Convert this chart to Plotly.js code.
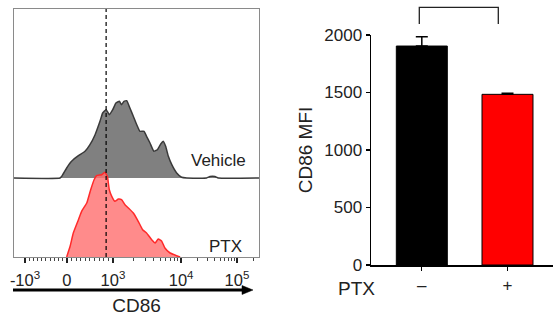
<!DOCTYPE html>
<html>
<head>
<meta charset="utf-8">
<script src="https://cdn.plot.ly/plotly-3.0.1.min.js"></script>
<style>html,body{margin:0;padding:0;background:#fff;}#chart{width:553px;height:326px;}</style>
</head>
<body>
<div id="chart"></div>
<script>
// ---- Flow histogram data (display channel 0-1000, relative cell counts) ----
const vehicleChannels = [0, 188, 195, 215, 235, 263, 290, 310, 331, 351, 362, 376, 389, 403, 416, 430, 439, 449, 460, 473, 487, 501, 514, 531, 541, 555, 571, 585, 599, 609, 619, 630, 644, 664, 684, 705, 786, 800, 820, 834, 1000];
const vehicleCounts   = [0, 0, 1.7, 10, 16.7, 22.3, 26.7, 33.3, 43.3, 56.7, 65, 68.3, 63.3, 68.3, 75, 76.7, 73.3, 76.7, 77.3, 70, 61.7, 53.3, 46.7, 46.7, 41.7, 35, 26.7, 28.3, 34, 36.7, 31.7, 21.7, 13.3, 5, 0.7, 0, 0, 1.5, 1.5, 0, 0];
const ptxChannels = [215, 229, 242, 263, 276, 297, 313, 327, 337, 358, 371, 381, 389, 399, 412, 426, 439, 453, 467, 487, 507, 525, 541, 562, 576, 589, 603, 616, 637, 664, 678];
const ptxCounts   = [0, 10.7, 24, 37.3, 45.7, 54, 67.3, 77.3, 81.3, 82.3, 84.7, 80.7, 67.3, 60.7, 55.7, 58, 57.3, 52.3, 49, 44, 35.7, 27.3, 24, 17.3, 14, 18, 15.7, 9, 4, 1.3, 0];
const histLabels = ['Vehicle', 'PTX'];
const gateChannel = 376;

// ---- Axis ticks (biexponential display) ----
const majorTickChannels = [45, 216, 404, 682, 910];
const majorTickText = ['-10<sup>3</sup>', '0', '10<sup>3</sup>', '10<sup>4</sup>', '10<sup>5</sup>'];

// ---- Bar chart data ----
const ptxCategories = ['\u2013', '+'];
const mfiMeans = [1904, 1484];
const mfiErrors = [80, 10];
const barColors = ['#000000', '#ff0000'];

// ---- helpers ----
const W = 553, H = 326;
const px = x => x / W;
const py = y => 1 - y / H;
const laneOffset = 79;

// minor ticks
const minor = [];
for (let k = 1; k < 10; k++) {
  minor.push(majorTickChannels[0] + (majorTickChannels[1] - majorTickChannels[0]) * k / 10);
  minor.push(majorTickChannels[1] + (majorTickChannels[2] - majorTickChannels[1]) * k / 10);
}
for (let k = 2; k < 10; k++) {
  minor.push(majorTickChannels[2] + (majorTickChannels[3] - majorTickChannels[2]) * Math.log10(k));
  minor.push(majorTickChannels[3] + (majorTickChannels[4] - majorTickChannels[3]) * Math.log10(k));
  const m = majorTickChannels[4] + (majorTickChannels[4] - majorTickChannels[3]) * Math.log10(k);
  if (m < 1000) minor.push(m);
}

const FONT = 'Liberation Sans, Arial, Helvetica, sans-serif';

const traces = [
  {
    x: vehicleChannels, y: vehicleCounts.map(c => c + laneOffset),
    type: 'scatter', mode: 'lines', fill: 'toself',
    fillcolor: '#808080', line: {color: '#3a3a3a', width: 1.5, shape: 'spline', smoothing: 0.4},
    xaxis: 'x', yaxis: 'y', hoverinfo: 'skip', name: histLabels[0]
  },
  {
    x: ptxChannels, y: ptxCounts,
    type: 'scatter', mode: 'lines', fill: 'tozeroy',
    fillcolor: 'rgba(255,110,110,0.8)', line: {color: '#ff2a2a', width: 1.5, shape: 'spline', smoothing: 0.4},
    xaxis: 'x', yaxis: 'y', hoverinfo: 'skip', name: histLabels[1]
  },
  {
    x: ptxCategories, y: mfiMeans, type: 'bar', width: 0.595,
    marker: {color: barColors, line: {color: '#000', width: 1}},
    error_y: {type: 'data', symmetric: false, array: mfiErrors, arrayminus: [0, 0], color: '#000', thickness: 1.5, width: 6},
    xaxis: 'x2', yaxis: 'y2', hoverinfo: 'skip'
  }
];

const layout = {
  width: W, height: H,
  margin: {l: 0, r: 0, t: 0, b: 0},
  paper_bgcolor: '#fff', plot_bgcolor: 'rgba(0,0,0,0)',
  showlegend: false,
  font: {family: FONT, color: '#222', size: 15},
  xaxis: {
    domain: [px(14), px(259)], range: [0, 1000], anchor: 'y',
    tickmode: 'array', tickvals: majorTickChannels, ticktext: majorTickText,
    ticks: 'outside', ticklen: 5, tickwidth: 1.5, tickcolor: '#222', ticklabelstandoff: 3,
    minor: {tickmode: 'array', tickvals: minor, ticks: 'outside', ticklen: 3, tickcolor: '#444', tickwidth: 1},
    showline: true, linecolor: '#8a8a8a', linewidth: 1.2, mirror: true,
    showgrid: false, zeroline: false, tickfont: {size: 16.5, color: '#222'},
    title: {text: 'CD86', font: {size: 19, color: '#222'}, standoff: 10}
  },
  yaxis: {
    domain: [py(257), py(9)], range: [0, 248], anchor: 'x',
    showticklabels: false, ticks: '', showline: true, linecolor: '#8a8a8a', linewidth: 1.2, mirror: true,
    showgrid: false, zeroline: false
  },
  xaxis2: {
    domain: [px(371), 1], anchor: 'y2', type: 'category', range: [-0.593, 1.531],
    ticks: 'outside', ticklen: 4, tickwidth: 1.3, tickcolor: '#000',
    showline: true, linecolor: '#000', linewidth: 1.5, showgrid: false, zeroline: false,
    tickfont: {size: 17, color: '#222'}
  },
  yaxis2: {
    domain: [py(265), py(35)], anchor: 'x2', range: [0, 2000],
    tickmode: 'array', tickvals: [0, 500, 1000, 1500, 2000],
    ticks: 'outside', ticklen: 4, tickwidth: 1.3, tickcolor: '#000',
    showline: true, linecolor: '#000', linewidth: 1.5, showgrid: false, zeroline: false,
    tickfont: {size: 17, color: '#222'},
    title: {text: 'CD86 MFI', font: {size: 19, color: '#222'}, standoff: 6}
  },
  shapes: [
    {type: 'line', xref: 'x', yref: 'y', x0: gateChannel, x1: gateChannel, y0: 0, y1: 248,
     line: {color: '#000', width: 1.2, dash: '4px,3px'}, layer: 'above'},
    {type: 'line', xref: 'paper', yref: 'paper', x0: px(13), x1: px(243), y0: py(290), y1: py(290),
     line: {color: '#000', width: 3}},
    {type: 'path', xref: 'paper', yref: 'paper',
     path: `M ${px(242)} ${py(285.5)} L ${px(253)} ${py(290)} L ${px(242)} ${py(294.5)} Z`,
     fillcolor: '#000', line: {color: '#000', width: 0.5}},
    {type: 'path', xref: 'paper', yref: 'paper',
     path: `M ${px(419.3)} ${py(24)} L ${px(419.3)} ${py(7.3)} L ${px(498.3)} ${py(7.3)} L ${px(498.3)} ${py(24)}`,
     line: {color: '#222', width: 1.3}}
  ],
  annotations: [
    {text: histLabels[0], xref: 'paper', yref: 'paper', x: px(218.5), y: py(160.5), showarrow: false,
     xanchor: 'center', yanchor: 'middle', font: {size: 17, color: '#222'}},
    {text: histLabels[1], xref: 'paper', yref: 'paper', x: px(225.5), y: py(246.5), showarrow: false,
     xanchor: 'center', yanchor: 'middle', font: {size: 17, color: '#222'}},
    {text: 'PTX', xref: 'paper', yref: 'paper', x: px(356), y: py(288), showarrow: false,
     xanchor: 'center', yanchor: 'middle', font: {size: 19, color: '#222'}},
    {text: '*', xref: 'paper', yref: 'paper', x: px(454), y: py(-3), showarrow: false,
     xanchor: 'center', yanchor: 'middle', font: {size: 16, color: '#333'}}
  ]
};

Plotly.newPlot('chart', traces, layout, {staticPlot: true, displayModeBar: false});
</script>
</body>
</html>
